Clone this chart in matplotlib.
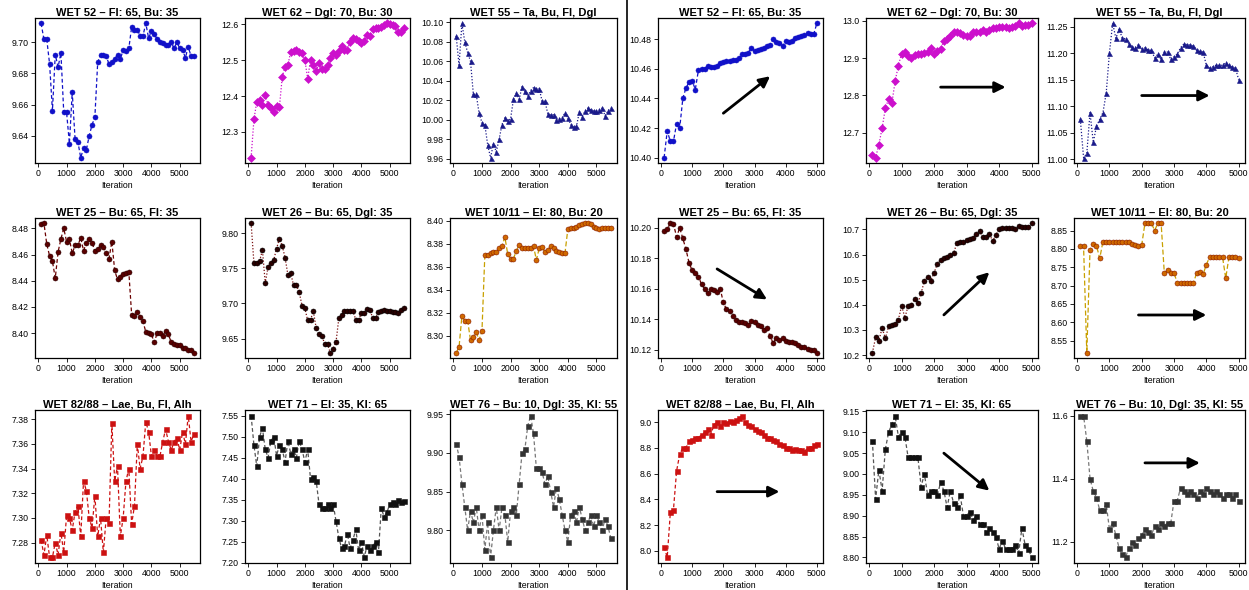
import numpy as np
import matplotlib.pyplot as plt

plt.rcParams['font.family'] = ['Liberation Sans', 'DejaVu Sans']

# iterations: left block 100..5500, right block 100..5000
iter_left = np.arange(100, 5600, 100)
iter_right = np.arange(100, 5100, 100)

# ---- left block ----
wet52_l = [9.712, 9.7017, 9.7017, 9.686, 9.656, 9.692, 9.684, 9.693, 9.655, 9.655,
           9.635, 9.668, 9.638, 9.636, 9.626, 9.632, 9.631, 9.640, 9.647, 9.652,
           9.687, 9.692, 9.692, 9.691, 9.686, 9.687, 9.689, 9.692, 9.689, 9.695,
           9.694, 9.696, 9.7096, 9.708, 9.708, 9.704, 9.704, 9.712, 9.7025, 9.707,
           9.705, 9.702, 9.700, 9.6996, 9.698, 9.698, 9.700, 9.696, 9.700, 9.696,
           9.695, 9.690, 9.697, 9.691, 9.691]
wet62_l = [12.228, 12.335, 12.384, 12.390, 12.376, 12.402, 12.376, 12.368, 12.356, 12.373,
           12.369, 12.453, 12.482, 12.486, 12.524, 12.525, 12.528, 12.522, 12.520, 12.500,
           12.449, 12.500, 12.486, 12.470, 12.493, 12.475, 12.475, 12.486, 12.507, 12.519,
           12.514, 12.525, 12.540, 12.528, 12.529, 12.552, 12.561, 12.559, 12.553, 12.547,
           12.553, 12.570, 12.568, 12.587, 12.589, 12.591, 12.593, 12.598, 12.603, 12.600,
           12.598, 12.595, 12.580, 12.580, 12.589]
wet55_l = [10.086, 10.056, 10.099, 10.080, 10.069, 10.060, 10.026, 10.026, 10.0066, 9.997,
           9.995, 9.974, 9.961, 9.975, 9.967, 9.980, 9.995, 10.002, 9.999, 10.001,
           10.021, 10.027, 10.021, 10.034, 10.029, 10.024, 10.030, 10.033, 10.032, 10.032,
           10.019, 10.019, 10.006, 10.005, 10.005, 10.000, 10.001, 10.002, 10.007, 10.002,
           9.995, 9.992, 9.993, 10.008, 10.003, 10.009, 10.012, 10.010, 10.009, 10.009,
           10.010, 10.012, 10.004, 10.009, 10.012]
wet25_l = [8.483, 8.484, 8.468, 8.459, 8.455, 8.442, 8.462, 8.472, 8.480, 8.470,
           8.472, 8.461, 8.467, 8.467, 8.473, 8.463, 8.469, 8.472, 8.469, 8.463,
           8.464, 8.467, 8.466, 8.461, 8.457, 8.470, 8.448, 8.441, 8.443, 8.445,
           8.446, 8.447, 8.414, 8.413, 8.416, 8.412, 8.409, 8.401, 8.400, 8.399,
           8.393, 8.400, 8.400, 8.398, 8.402, 8.399, 8.393, 8.392, 8.391, 8.391,
           8.389, 8.389, 8.387, 8.387, 8.385]
wet26_l = [9.814, 9.757, 9.757, 9.760, 9.776, 9.729, 9.752, 9.758, 9.762, 9.778,
           9.792, 9.782, 9.765, 9.741, 9.743, 9.726, 9.726, 9.716, 9.697, 9.693,
           9.676, 9.677, 9.689, 9.665, 9.656, 9.654, 9.643, 9.642, 9.630, 9.636,
           9.645, 9.679, 9.683, 9.689, 9.689, 9.689, 9.689, 9.677, 9.677, 9.686,
           9.687, 9.692, 9.691, 9.679, 9.679, 9.688, 9.689, 9.691, 9.690, 9.689,
           9.688, 9.688, 9.686, 9.691, 9.693]
wet1011_l = [8.285, 8.290, 8.317, 8.313, 8.313, 8.296, 8.299, 8.303, 8.296, 8.304,
             8.370, 8.370, 8.372, 8.373, 8.373, 8.376, 8.378, 8.386, 8.371, 8.367,
             8.367, 8.374, 8.379, 8.376, 8.376, 8.376, 8.376, 8.378, 8.366, 8.376,
             8.377, 8.373, 8.375, 8.378, 8.376, 8.374, 8.373, 8.372, 8.372, 8.393,
             8.394, 8.394, 8.395, 8.396, 8.397, 8.398, 8.398, 8.397, 8.395, 8.394,
             8.393, 8.394, 8.394, 8.394, 8.394]
wet8288_l = [7.282, 7.270, 7.286, 7.268, 7.268, 7.280, 7.270, 7.288, 7.272, 7.302,
             7.300, 7.290, 7.305, 7.310, 7.285, 7.330, 7.322, 7.300, 7.292, 7.318,
             7.285, 7.300, 7.272, 7.300, 7.296, 7.377, 7.330, 7.342, 7.285, 7.300,
             7.330, 7.340, 7.295, 7.310, 7.360, 7.340, 7.350, 7.378, 7.370, 7.350,
             7.355, 7.350, 7.350, 7.362, 7.372, 7.362, 7.355, 7.362, 7.365, 7.355,
             7.370, 7.360, 7.383, 7.362, 7.368]
wet71_l = [7.550, 7.480, 7.430, 7.500, 7.520, 7.470, 7.450, 7.490, 7.500, 7.455,
           7.480, 7.470, 7.440, 7.490, 7.460, 7.470, 7.450, 7.490, 7.470, 7.440,
           7.470, 7.400, 7.405, 7.395, 7.340, 7.330, 7.330, 7.340, 7.330, 7.340,
           7.300, 7.260, 7.235, 7.240, 7.270, 7.235, 7.255, 7.280, 7.230, 7.250,
           7.215, 7.240, 7.230, 7.240, 7.250, 7.225, 7.330, 7.310, 7.320, 7.340,
           7.345, 7.340, 7.350, 7.345, 7.348]
wet76_l = [9.912, 9.895, 9.860, 9.830, 9.800, 9.825, 9.810, 9.830, 9.800, 9.820,
           9.775, 9.810, 9.765, 9.800, 9.830, 9.800, 9.830, 9.820, 9.785, 9.825,
           9.830, 9.820, 9.860, 9.900, 9.905, 9.935, 9.948, 9.925, 9.880, 9.880,
           9.875, 9.860, 9.870, 9.850, 9.830, 9.855, 9.840, 9.820, 9.800, 9.785,
           9.820, 9.825, 9.810, 9.830, 9.815, 9.800, 9.810, 9.820, 9.805, 9.820,
           9.810, 9.800, 9.815, 9.805, 9.790]

# ---- right block ----
wet52_r = [10.400, 10.418, 10.411, 10.411, 10.423, 10.420, 10.440, 10.447, 10.451, 10.452,
           10.446, 10.459, 10.460, 10.460, 10.462, 10.461, 10.461, 10.462, 10.4636, 10.4644,
           10.465, 10.4656, 10.466, 10.466, 10.467, 10.470, 10.470, 10.471, 10.474, 10.472,
           10.4724, 10.4733, 10.474, 10.4756, 10.476, 10.480, 10.4778, 10.4773, 10.4756, 10.479,
           10.4784, 10.479, 10.4807, 10.4813, 10.482, 10.4827, 10.4844, 10.4836, 10.4836, 10.4907]
wet62_r = [12.640, 12.633, 12.668, 12.712, 12.766, 12.790, 12.779, 12.838, 12.880, 12.912,
           12.915, 12.905, 12.899, 12.907, 12.912, 12.912, 12.913, 12.915, 12.927, 12.912,
           12.918, 12.924, 12.947, 12.951, 12.959, 12.971, 12.969, 12.966, 12.962, 12.959,
           12.960, 12.971, 12.971, 12.971, 12.974, 12.969, 12.975, 12.980, 12.980, 12.982,
           12.982, 12.982, 12.981, 12.984, 12.986, 12.993, 12.986, 12.989, 12.989, 12.993]
wet55_r = [11.075, 11.003, 11.011, 11.088, 11.032, 11.062, 11.075, 11.088, 11.124, 11.200,
           11.256, 11.228, 11.245, 11.228, 11.227, 11.218, 11.211, 11.210, 11.216, 11.208,
           11.210, 11.206, 11.205, 11.191, 11.198, 11.188, 11.202, 11.202, 11.188, 11.193,
           11.198, 11.210, 11.217, 11.216, 11.215, 11.213, 11.205, 11.203, 11.202, 11.177,
           11.172, 11.174, 11.177, 11.177, 11.177, 11.182, 11.177, 11.174, 11.172, 11.150]
wet25_r = [10.198, 10.199, 10.203, 10.2025, 10.194, 10.200, 10.193, 10.186, 10.177, 10.172,
           10.1705, 10.168, 10.163, 10.160, 10.157, 10.160, 10.159, 10.158, 10.160, 10.151,
           10.1465, 10.1457, 10.142, 10.1396, 10.1385, 10.138, 10.1375, 10.136, 10.139, 10.138,
           10.1364, 10.1354, 10.133, 10.134, 10.129, 10.1242, 10.128, 10.1263, 10.1276, 10.126,
           10.125, 10.125, 10.1242, 10.1234, 10.1217, 10.122, 10.1206, 10.120, 10.120, 10.118]
wet26_r = [10.209, 10.270, 10.257, 10.308, 10.267, 10.314, 10.321, 10.323, 10.340, 10.397,
           10.349, 10.395, 10.400, 10.425, 10.407, 10.446, 10.496, 10.512, 10.496, 10.528,
           10.563, 10.578, 10.585, 10.591, 10.598, 10.607, 10.645, 10.649, 10.652, 10.658,
           10.664, 10.667, 10.683, 10.692, 10.671, 10.671, 10.683, 10.654, 10.677, 10.702,
           10.705, 10.705, 10.705, 10.705, 10.700, 10.713, 10.709, 10.709, 10.709, 10.725]
wet1011_r = [8.807, 8.807, 8.517, 8.798, 8.813, 8.809, 8.774, 8.820, 8.818, 8.818,
             8.818, 8.818, 8.818, 8.818, 8.818, 8.818, 8.814, 8.811, 8.807, 8.811,
             8.870, 8.870, 8.870, 8.850, 8.870, 8.870, 8.733, 8.743, 8.734, 8.734,
             8.708, 8.708, 8.708, 8.708, 8.708, 8.708, 8.734, 8.736, 8.731, 8.757,
             8.778, 8.778, 8.778, 8.778, 8.778, 8.720, 8.778, 8.778, 8.778, 8.776]
wet8288_r = [8.03, 7.95, 8.30, 8.32, 8.62, 8.75, 8.80, 8.80, 8.85, 8.86,
             8.88, 8.88, 8.90, 8.92, 8.95, 8.90, 8.98, 9.00, 8.97, 9.00,
             8.99, 9.01, 9.00, 9.02, 9.03, 9.05, 9.00, 8.98, 8.97, 8.95,
             8.93, 8.92, 8.90, 8.88, 8.88, 8.86, 8.85, 8.83, 8.82, 8.80,
             8.80, 8.78, 8.79, 8.78, 8.78, 8.77, 8.80, 8.80, 8.82, 8.83]
wet71_r = [9.08, 8.94, 9.01, 8.96, 9.06, 9.10, 9.12, 9.14, 9.09, 9.10,
           9.09, 9.04, 9.04, 9.04, 9.04, 8.97, 9.00, 8.95, 8.96, 8.96,
           8.95, 8.98, 8.96, 8.92, 8.96, 8.93, 8.92, 8.95, 8.90, 8.90,
           8.91, 8.89, 8.90, 8.88, 8.88, 8.86, 8.87, 8.86, 8.85, 8.82,
           8.84, 8.82, 8.82, 8.82, 8.83, 8.81, 8.87, 8.83, 8.82, 8.80]
wet76_r = [11.60, 11.60, 11.52, 11.40, 11.36, 11.34, 11.30, 11.30, 11.32, 11.24,
           11.26, 11.22, 11.18, 11.16, 11.15, 11.18, 11.20, 11.19, 11.21, 11.22,
           11.24, 11.23, 11.22, 11.25, 11.24, 11.26, 11.25, 11.26, 11.26, 11.33,
           11.33, 11.37, 11.36, 11.35, 11.36, 11.35, 11.34, 11.36, 11.35, 11.37,
           11.36, 11.35, 11.36, 11.35, 11.34, 11.35, 11.35, 11.34, 11.35, 11.33]

titles = ["WET 52 \u2013 Fl: 65, Bu: 35", "WET 62 \u2013 Dgl: 70, Bu: 30", "WET 55 \u2013 Ta, Bu, Fl, Dgl",
          "WET 25 \u2013 Bu: 65, Fl: 35", "WET 26 \u2013 Bu: 65, Dgl: 35", "WET 10/11 \u2013 El: 80, Bu: 20",
          "WET 82/88 \u2013 Lae, Bu, Fl, Alh", "WET 71 \u2013 El: 35, Kl: 65", "WET 76 \u2013 Bu: 10, Dgl: 35, Kl: 55"]

left_data = [wet52_l, wet62_l, wet55_l, wet25_l, wet26_l, wet1011_l, wet8288_l, wet71_l, wet76_l]
right_data = [wet52_r, wet62_r, wet55_r, wet25_r, wet26_r, wet1011_r, wet8288_r, wet71_r, wet76_r]

# style per site: line colour, linestyle, marker, marker face, marker edge
styles = [
    ("#1010c8", (0, (3, 2)), "o", "#1010c8", "#1010c8"),
    ("#cc10cc", (0, (1, 1.5)), "D", "#cc10cc", "#cc10cc"),
    ("#1a1a8a", (0, (1, 1.5)), "^", "#1a1a8a", "#1a1a8a"),
    ("#6a0000", (0, (3, 2)), "o", "#5a0000", "#2a0000"),
    ("#7a1010", (0, (1, 1.5)), "o", "#2a0000", "#000000"),
    ("#c8a000", (0, (4, 2)), "o", "#d06a00", "#8a1a00"),
    ("#cc1111", (0, (3, 2)), "s", "#cc1111", "#cc1111"),
    ("#555555", (0, (3, 2)), "s", "#111111", "#111111"),
    ("#777777", (0, (3, 2)), "s", "#333333", "#333333"),
]

left_ticks = [
    ([9.64, 9.66, 9.68, 9.70], "%.2f"), ([12.3, 12.4, 12.5, 12.6], "%.1f"),
    (np.arange(9.96, 10.101, 0.02), "%.2f"), ([8.40, 8.42, 8.44, 8.46, 8.48], "%.2f"),
    ([9.65, 9.70, 9.75, 9.80], "%.2f"), ([8.30, 8.32, 8.34, 8.36, 8.38, 8.40], "%.2f"),
    ([7.28, 7.30, 7.32, 7.34, 7.36, 7.38], "%.2f"), (np.arange(7.20, 7.551, 0.05), "%.2f"),
    ([9.80, 9.85, 9.90, 9.95], "%.2f"),
]
right_ticks = [
    ([10.40, 10.42, 10.44, 10.46, 10.48], "%.2f"), ([12.7, 12.8, 12.9, 13.0], "%.1f"),
    (np.arange(11.00, 11.251, 0.05), "%.2f"), ([10.12, 10.14, 10.16, 10.18, 10.20], "%.2f"),
    ([10.2, 10.3, 10.4, 10.5, 10.6, 10.7], "%.1f"), (np.arange(8.55, 8.851, 0.05), "%.2f"),
    ([8.0, 8.2, 8.4, 8.6, 8.8, 9.0], "%.1f"), (np.arange(8.80, 9.151, 0.05), "%.2f"),
    ([11.2, 11.4, 11.6], "%.1f"),
]

# trend arrows on the right block (start x, start y, end x, end y)
arrows = [
    (2000, 10.430, 3500, 10.455), (2200, 12.822, 4200, 12.822), (2000, 11.120, 4100, 11.120),
    (1800, 10.173, 3400, 10.153), (2300, 10.360, 3700, 10.530), (1900, 8.620, 4000, 8.620),
    (1800, 8.460, 3800, 8.460), (2300, 9.050, 3700, 8.960), (2100, 11.450, 3800, 11.450),
]

W, H = 1249, 590
col_left = [(35, 200), (245, 410), (450, 617)]
col_right = [(658, 823), (866, 1038), (1074, 1245)]
rows = [(18, 163), (218, 358), (410, 563)]


def r_lim(v):
    lo, hi = min(v), max(v)
    pad = 0.04 * (hi - lo)
    return lo - pad, hi + pad


fig = plt.figure(figsize=(W / 100, H / 100), dpi=100)


def draw(ax, x, y, i, ticks, arrow=None):
    lc, ls, mk, mf, me = styles[i]
    ax.plot(x, y, color=lc, linestyle=ls, linewidth=0.9, marker=mk, markersize=3.6,
            markerfacecolor=mf, markeredgecolor=me, markeredgewidth=0.4)
    ax.set_xlim(r_lim(x))
    ax.set_ylim(r_lim(y))
    ax.set_xticks(range(0, 5001, 1000))
    ax.set_yticks(ticks[0])
    ax.set_yticklabels([ticks[1] % t for t in ticks[0]])
    ax.tick_params(direction="out", length=3, width=0.6, labelsize=6.3, pad=1.5)
    for sp in ax.spines.values():
        sp.set_linewidth(0.9)
    ax.set_xlabel("Iteration", fontsize=6.3, labelpad=2)
    ax.set_title(titles[i], fontsize=8.0, fontweight="bold", pad=1.5)
    if arrow is not None:
        ax.annotate("", xy=(arrow[2], arrow[3]), xytext=(arrow[0], arrow[1]),
                    arrowprops=dict(arrowstyle="-|>", color="black", lw=2.0,
                                    mutation_scale=16, shrinkA=0, shrinkB=0))


for i in range(9):
    r, c = divmod(i, 3)
    top, bot = rows[r]
    for cols, data, x, tk, arr in ((col_left, left_data, iter_left, left_ticks, None),
                                   (col_right, right_data, iter_right, right_ticks, arrows)):
        lft, rgt = cols[c]
        ax = fig.add_axes([lft / W, 1 - bot / H, (rgt - lft) / W, (bot - top) / H])
        draw(ax, x, data[i], i, tk[i], None if arr is None else arr[i])

fig.add_artist(plt.Line2D([627 / W, 627 / W], [0, 1], color="black", linewidth=1.2))

fig.savefig("out.png", dpi=100)
